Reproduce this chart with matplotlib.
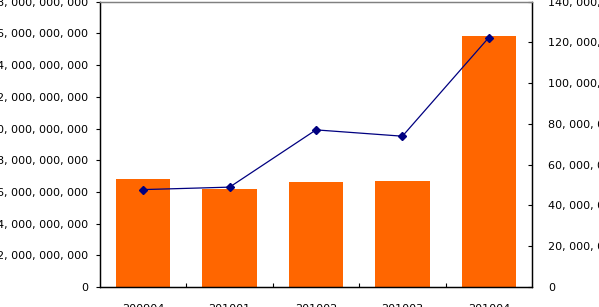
import matplotlib
matplotlib.use("Agg")
import matplotlib.pyplot as plt
from matplotlib.ticker import FuncFormatter, MultipleLocator

categories = ["200904", "201001", "201002", "201003", "201004"]
bar_values = [6.81e9, 6.18e9, 6.62e9, 6.69e9, 15.86e9]
line_values = [47.8e6, 49.0e6, 77.1e6, 74.0e6, 122.4e6]

plt.rcParams['font.family'] = ['DejaVu Sans']

fig = plt.figure(figsize=(5.99, 3.07), dpi=100)
ax = fig.add_axes([100/599, 1 - 287/307, 432/599, (287 - 1.7)/307])
x = list(range(len(categories)))
ax.bar(x, bar_values, width=0.63, color="#FF6600", zorder=2)
ax.set_xlim(-0.5, 4.5)
ax.set_ylim(0, 18e9)
ax.yaxis.set_major_locator(MultipleLocator(2e9))

def fmt(v, pos):
    s = f"{int(round(v)):,}"
    return s.replace(",", ", ")

ax.yaxis.set_major_formatter(FuncFormatter(fmt))
ax.set_xticks([i + 0.5 for i in range(4)])
ax.set_xticklabels([])
ax.set_xticks(x, minor=True)
ax.set_xticklabels(categories, minor=True)
ax.tick_params(axis='x', which='major', direction='in', length=3, width=0.8)
ax.tick_params(axis='x', which='minor', length=0, pad=12, labelsize=8)
ax.tick_params(axis='y', direction='out', length=3, width=0.8, pad=5.5, labelsize=8)

ax2 = ax.twinx()
ax2.plot(x, line_values, color="#000080", linewidth=0.9, marker="D",
         markersize=4.5, markerfacecolor="#000080", markeredgecolor="#000080", zorder=3)
ax2.set_ylim(0, 140e6)
ax2.yaxis.set_major_locator(MultipleLocator(20e6))
ax2.yaxis.set_major_formatter(FuncFormatter(fmt))
ax2.tick_params(axis='y', direction='in', length=3, width=0.8, pad=11.5, labelsize=8)

for a in (ax, ax2):
    a.spines['top'].set_color('#808080')
    a.spines['left'].set_color('black')
    a.spines['right'].set_color('black')
    a.spines['bottom'].set_color('black')
    for s in a.spines.values():
        s.set_linewidth(0.9)

fig.savefig("out.png", dpi=100)
